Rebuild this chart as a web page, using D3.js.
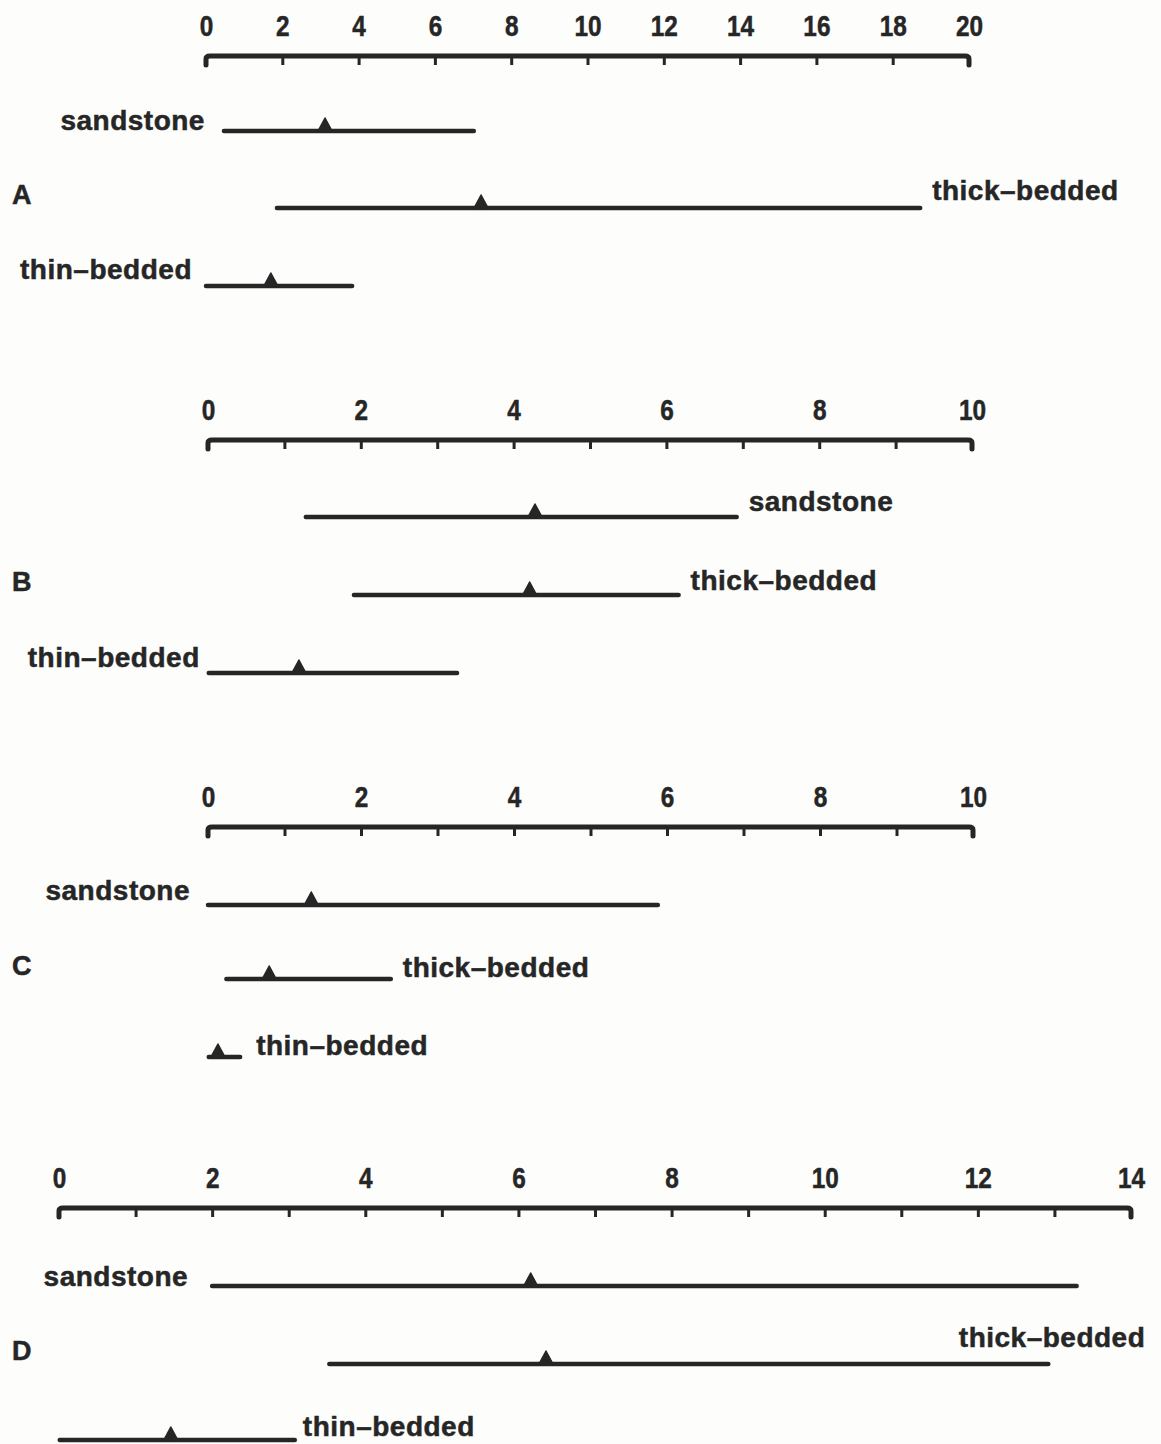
<!DOCTYPE html>
<html>
<head>
<meta charset="utf-8">
<script src="https://cdn.jsdelivr.net/npm/d3@7"></script>
<style>
  html, body { margin: 0; padding: 0; background: #fdfdfc; }
  svg { display: block; }
  text { font-family: "Liberation Sans", Arial, sans-serif; font-weight: bold; fill: #262626; stroke: #262626; stroke-width: 0.5px; }
</style>
</head>
<body>
<svg id="chart" width="1161" height="1444"></svg>
<script>
// Panels and their scales
const panels = ["A", "B", "C", "D"];
const axisMax = [20, 10, 10, 14];
const tickStep = [2, 1, 1, 1];
const labelStep = [2, 2, 2, 2];

// Rock types, one row each in every panel
const rockTypes = ["sandstone", "thick–bedded", "thin–bedded"];

// Range (min, max) and the marked value of each row, per panel
const rangeMin = [
  [0.47, 1.86, 0.0],
  [1.28, 1.91, 0.01],
  [0.0, 0.24, 0.01],
  [2.0, 3.53, 0.01]
];
const rangeMax = [
  [7.02, 18.72, 3.83],
  [6.92, 6.16, 3.26],
  [5.88, 2.39, 0.42],
  [13.29, 12.92, 3.08]
];
const rangeMark = [
  [3.12, 7.21, 1.70],
  [4.28, 4.21, 1.19],
  [1.35, 0.80, 0.13],
  [6.16, 6.36, 1.46]
];

// ---- layout ----
const axisLeft = [206, 208, 208, 59];
const axisRight = [969, 972, 973, 1131];
const axisY = [56, 440, 827, 1208];
const rowOffset = [
  [75, 152, 230],
  [77, 155, 233],
  [78, 152, 230],
  [78, 156, 232]
];
// label placement: which end of the line it sits by, text anchor, dx, dy
const labelPlace = [
  [{at: "start", anchor: "end", dx: -19, dy: -1}, {at: "end", anchor: "start", dx: 12, dy: -8}, {at: "start", anchor: "end", dx: -14, dy: -7}],
  [{at: "end", anchor: "start", dx: 12, dy: -6}, {at: "end", anchor: "start", dx: 12, dy: -5}, {at: "start", anchor: "end", dx: -9, dy: -6}],
  [{at: "start", anchor: "end", dx: -18, dy: -5}, {at: "end", anchor: "start", dx: 12, dy: -2}, {at: "end", anchor: "start", dx: 16, dy: -2}],
  [{at: "start", anchor: "end", dx: -24, dy: 0}, {at: "end", anchor: "end", dx: 97, dy: -17}, {at: "end", anchor: "start", dx: 8, dy: -4}]
];

const ink = "#262626";
const svg = d3.select("#chart");

panels.forEach((name, p) => {
  const x = d3.scaleLinear().domain([0, axisMax[p]]).range([axisLeft[p], axisRight[p]]);
  const y0 = axisY[p];
  const g = svg.append("g");

  // tick labels above the scale bar (tall, narrow figures)
  const labelVals = d3.range(0, axisMax[p] + 0.001, labelStep[p]);
  const top = g.append("g")
    .attr("transform", `translate(0,${y0 - 20})`)
    .call(d3.axisTop(x).tickValues(labelVals).tickSize(0).tickPadding(0).tickFormat(d3.format("d")));
  top.select(".domain").remove();
  top.selectAll("text")
    .attr("font-size", 29)
    .attr("font-family", "Liberation Sans, Arial, sans-serif")
    .attr("font-weight", "bold")
    .attr("fill", ink)
    .attr("dy", 0)
    .attr("transform", "scale(0.84,1)");

  // small tick marks hanging under the bar
  const tickVals = d3.range(tickStep[p], axisMax[p] - 0.001, tickStep[p]);
  const bottom = g.append("g")
    .attr("transform", `translate(0,${y0})`)
    .call(d3.axisBottom(x).tickValues(tickVals).tickSize(9).tickFormat(""));
  bottom.select(".domain").remove();
  bottom.selectAll("line").attr("stroke", ink).attr("stroke-width", 3);

  // scale bar with hooked ends
  const xa = x(0), xb = x(axisMax[p]);
  g.append("path")
    .attr("d", `M${xa},${y0 + 9} L${xa},${y0 + 3} Q${xa},${y0} ${xa + 4},${y0} L${xb - 4},${y0} Q${xb},${y0} ${xb},${y0 + 3} L${xb},${y0 + 9}`)
    .attr("fill", "none")
    .attr("stroke", ink)
    .attr("stroke-width", 5)
    .attr("stroke-linecap", "round")
    .attr("stroke-linejoin", "round");

  // range rows
  rockTypes.forEach((rock, r) => {
    const yy = y0 + rowOffset[p][r];
    const a = x(rangeMin[p][r]), b = x(rangeMax[p][r]), m = x(rangeMark[p][r]);
    g.append("line")
      .attr("x1", a).attr("x2", b)
      .attr("y1", yy).attr("y2", yy)
      .attr("stroke", ink)
      .attr("stroke-width", 4.5)
      .attr("stroke-linecap", "round");
    g.append("path")
      .attr("d", `M${m - 7},${yy} L${m},${yy - 13} L${m + 7},${yy} Z`)
      .attr("fill", ink)
      .attr("stroke", ink)
      .attr("stroke-width", 1.5)
      .attr("stroke-linejoin", "round");

    const lp = labelPlace[p][r];
    const ax = lp.at === "start" ? a : b;
    g.append("text")
      .attr("x", ax + lp.dx)
      .attr("y", yy + lp.dy)
      .attr("text-anchor", lp.anchor)
      .attr("font-size", 28)
      .attr("letter-spacing", 0.5)
      .text(rock);
  });

  // panel letter
  g.append("text")
    .attr("x", 12)
    .attr("y", y0 + rowOffset[p][1] - 4)
    .attr("font-size", 27)
    .text(name);
});
</script>
</body>
</html>
